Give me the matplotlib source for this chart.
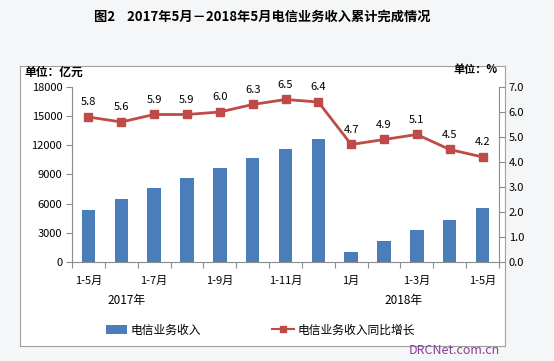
import matplotlib
matplotlib.use("Agg")
import matplotlib.pyplot as plt
from matplotlib.patches import Rectangle
from matplotlib.lines import Line2D

plt.rcParams['font.family'] = ['Noto Sans CJK SC', 'DejaVu Sans']

# datos
meses = ["1-5月", "1-6月", "1-7月", "1-8月", "1-9月", "1-10月", "1-11月", "1-12月",
         "1月", "1-2月", "1-3月", "1-4月", "1-5月"]
ingresos = [5350, 6480, 7580, 8610, 9640, 10730, 11660, 12650,
            1080, 2140, 3310, 4370, 5580]
crecimiento = [5.8, 5.6, 5.9, 5.9, 6.0, 6.3, 6.5, 6.4, 4.7, 4.9, 5.1, 4.5, 4.2]
etiquetas_x = ["1-5月", "1-7月", "1-9月", "1-11月", "1月", "1-3月", "1-5月"]
yticks_izq = [0, 3000, 6000, 9000, 12000, 15000, 18000]
yticks_der = [0.0, 1.0, 2.0, 3.0, 4.0, 5.0, 6.0, 7.0]

azul = "#4a7ebb"
rojo = "#be4b48"
gris = "#8c8c8c"

fig = plt.figure(figsize=(5.54, 3.61), dpi=100)
fig.patch.set_facecolor("#f5f6f7")

# caja blanca del grafico (ejes de fondo)
fondo = fig.add_axes([20 / 554, 1 - 346 / 361, 485 / 554, 280 / 361], zorder=-5)
fondo.set_facecolor("white")
fondo.set_xticks([])
fondo.set_yticks([])
for s in fondo.spines.values():
    s.set_color("#a0a0a0")

fig.text(0.473, 1 - 17 / 361, "图2    2017年5月－2018年5月电信业务收入累计完成情况",
         ha="center", va="center", fontsize=9.5, fontweight="bold")

ax = fig.add_axes([72 / 554, 1 - 262 / 361, 427 / 554, 175 / 361])
ax.set_facecolor("none")
x = list(range(len(meses)))
ax.bar(x, ingresos, width=0.41, color=azul, zorder=2)
ax.set_xlim(-0.5, len(meses) - 0.5)
ax.set_ylim(0, 18000)
ax.set_yticks(yticks_izq)
ax.set_yticklabels([str(v) for v in yticks_izq], fontsize=8)

ax.set_xticks([i + 0.5 for i in range(-1, len(meses))])
ax.set_xticklabels([])
ax.set_xticks(list(range(0, len(meses), 2)), minor=True)
ax.set_xticklabels(etiquetas_x, minor=True, fontsize=8)
ax.tick_params(axis="x", which="major", length=4, color=gris, direction="out")
ax.tick_params(axis="x", which="minor", length=0, pad=10)
ax.tick_params(axis="y", length=4, color=gris, pad=3)
for lado in ["top", "right"]:
    ax.spines[lado].set_visible(False)
for lado in ["left", "bottom"]:
    ax.spines[lado].set_color(gris)

ax2 = ax.twinx()
ax2.plot(x, crecimiento, color=rojo, linewidth=2, marker="s", markersize=6,
         markerfacecolor=rojo, markeredgecolor=rojo, zorder=3)
ax2.set_ylim(0, 7)
ax2.set_yticks(yticks_der)
ax2.set_yticklabels([f"{v:.1f}" for v in yticks_der], fontsize=8)
ax2.tick_params(axis="y", length=4, color=gris, pad=3)
for lado in ["top", "left", "bottom"]:
    ax2.spines[lado].set_visible(False)
ax2.spines["right"].set_color(gris)

for xi, v in zip(x, crecimiento):
    ax2.annotate(f"{v:.1f}", (xi, v), xytext=(0, 7), textcoords="offset points",
                 ha="center", va="bottom", fontsize=8)

# anos
ax.text(1.15, -0.22, "2017年", transform=ax.get_xaxis_transform(),
        ha="center", va="center", fontsize=8.5)
ax.text(9.6, -0.22, "2018年", transform=ax.get_xaxis_transform(),
        ha="center", va="center", fontsize=8.5)

# unidades
fig.text(24 / 554, 1 - 72 / 361, "单位：亿元", ha="left", va="center",
         fontsize=8.5, fontweight="bold")
fig.text(498 / 554, 1 - 69 / 361, "单位：%", ha="right", va="center",
         fontsize=8, fontweight="bold")

# leyenda
h1 = Rectangle((0, 0), 1, 1, facecolor=azul)
h2 = Line2D([], [], color=rojo, linewidth=1.5, marker="s", markersize=5)
fig.legend([h1, h2], ["电信业务收入", "电信业务收入同比增长"],
           loc="center", bbox_to_anchor=(0.47, 1 - 330 / 361), ncol=2,
           frameon=False, fontsize=8.5, columnspacing=6, handlelength=1.8,
           handletextpad=0.3)

fig.text(500 / 554, 1 - 351 / 361, "DRCNet.com.cn", ha="right", va="center",
         fontsize=9, color="#8b3d9c")

fig.savefig("out.png", dpi=100, facecolor=fig.get_facecolor())
